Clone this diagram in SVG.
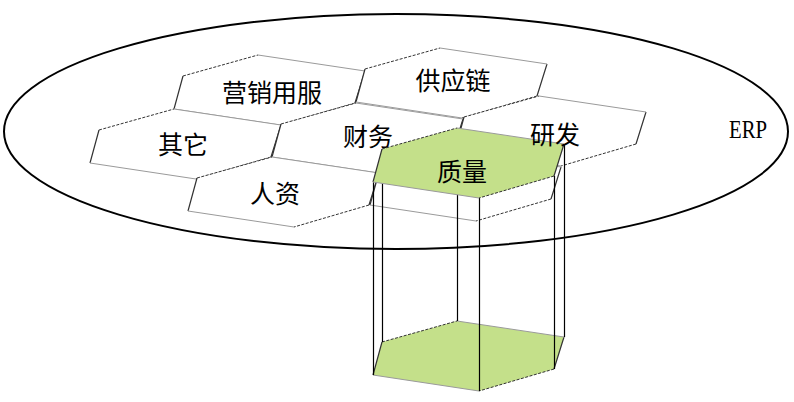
<svg xmlns="http://www.w3.org/2000/svg" xmlns:xlink="http://www.w3.org/1999/xlink" width="794" height="402" viewBox="0 0 794 402">
<style>
  .lbl { font-family: "Noto Sans CJK SC", "Noto Sans", sans-serif; font-size: 25px; fill: #000; text-anchor: middle; dominant-baseline: central; }
  .erp { font-family: "Liberation Serif", serif; font-size: 25px; fill: #000; text-anchor: middle; }
  .dark { fill: none; stroke: #333; stroke-width: 1.2; }
  .dash { fill: none; stroke: #333; stroke-width: 1; stroke-dasharray: 3 1.5; }
  .light { fill: none; stroke: #9a9a9a; stroke-width: 1; }
  .vert { stroke: #000; stroke-width: 1.2; fill: none; }
</style>
<defs>
  <g id="edges">
    <path class="dark" d="M-84,54 L-75,21 M107,16 L97,48"/>
    <path class="dash" d="M-75,21 L0,0 M97,48 L22,70"/>
    <path class="light" d="M0,0 L107,16 M22,70 L-84,54"/>
  </g>
  <g id="hexW">
    <polygon points="0,0 107,16 97,48 22,70 -84,54 -75,21" fill="#fff"/>
    <use xlink:href="#edges"/>
  </g>
  <g id="hexG">
    <polygon points="0,0 107,16 97,48 22,70 -84,54 -75,21" fill="#c4e08a"/>
    <use xlink:href="#edges"/>
  </g>
</defs>
<rect width="794" height="402" fill="#fff"/>

<g id="node-erp">
  <ellipse cx="396" cy="131.5" rx="392" ry="117.5" fill="none" stroke="#000" stroke-width="2"/>
  <text class="erp" x="748" y="137.5" textLength="38" lengthAdjust="spacingAndGlyphs">ERP</text>
</g>

<g id="node-yingxiao">
  <use xlink:href="#hexW" transform="translate(258,55)"/>
  <text class="lbl" x="272" y="91">营销用服</text>
</g>
<g id="node-gongying">
  <use xlink:href="#hexW" transform="translate(440,48)"/>
  <text class="lbl" x="453" y="79">供应链</text>
</g>
<g id="node-qita">
  <use xlink:href="#hexW" transform="translate(174,109)"/>
  <text class="lbl" x="183" y="143">其它</text>
</g>
<g id="node-caiwu">
  <use xlink:href="#hexW" transform="translate(356,103)"/>
  <text class="lbl" x="368" y="135">财务</text>
</g>
<g id="node-yanfa">
  <use xlink:href="#hexW" transform="translate(539,96)"/>
</g>
<g id="node-renzi">
  <use xlink:href="#hexW" transform="translate(272,157)"/>
  <text class="lbl" x="275" y="192">人资</text>
</g>
<g id="node-slot">
  <use xlink:href="#hexW" transform="translate(454,151)"/>
</g>

<g id="node-zhiliang">
  <use xlink:href="#hexG" transform="translate(457,321)"/>
  <g id="connectors">
    <path class="vert" d="M382.5,149 V342 M457.5,128 V321 M564.5,144 V337 M554.5,176 V369 M479.5,198 V391 M373.5,182 V375"/>
  </g>
  <use xlink:href="#hexG" transform="translate(457,128)"/>
  <text class="lbl" x="462" y="170">质量</text>
</g>
<text class="lbl" x="555" y="133">研发</text>
</svg>
